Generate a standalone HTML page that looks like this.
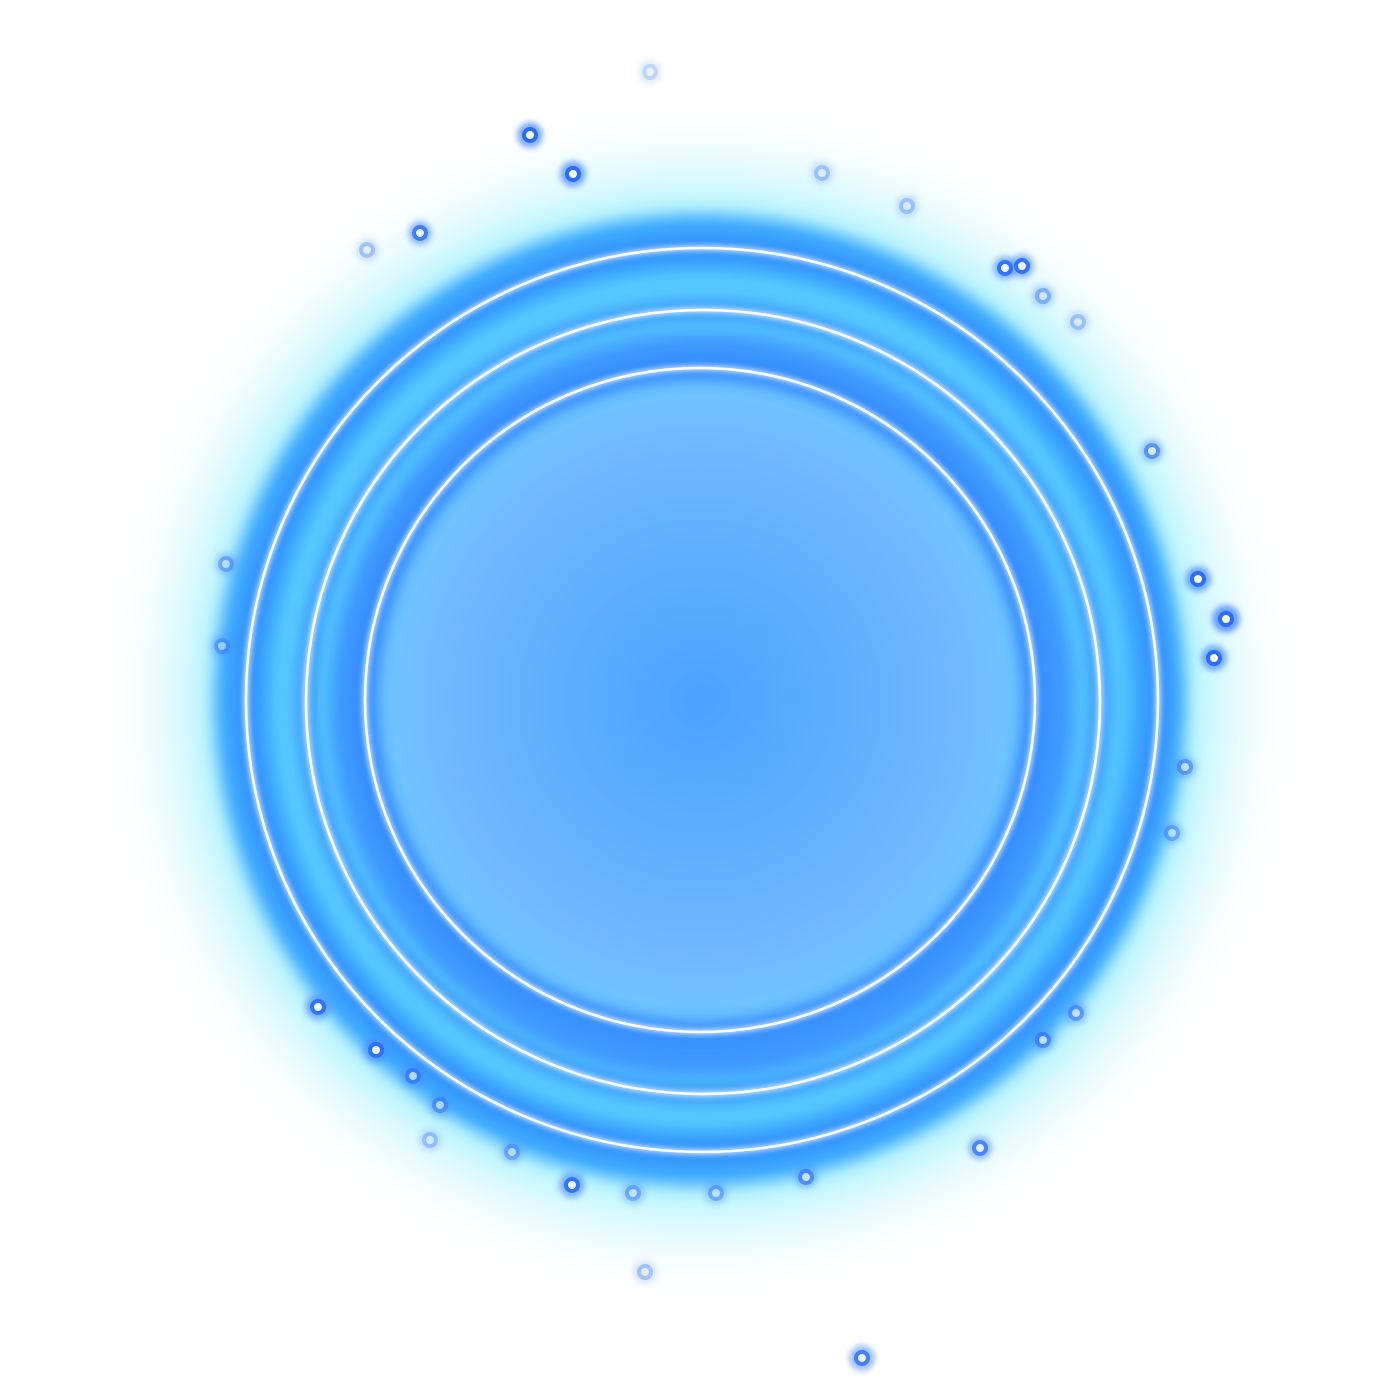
<!DOCTYPE html>
<html><head><meta charset="utf-8"><style>
html,body{margin:0;padding:0;background:#fff;width:1400px;height:1400px;overflow:hidden}
</style></head><body>
<svg width="1400" height="1400" viewBox="0 0 1400 1400" xmlns="http://www.w3.org/2000/svg">
<defs>
  <radialGradient id="halo" cx="700" cy="700" r="600" gradientUnits="userSpaceOnUse">
    <stop offset="0.7" stop-color="#40d8ff" stop-opacity="0.95"/>
    <stop offset="0.84" stop-color="#80ecff" stop-opacity="0.45"/>
    <stop offset="1" stop-color="#ffffff" stop-opacity="0"/>
  </radialGradient>
  <radialGradient id="core" cx="700" cy="700" r="340" gradientUnits="userSpaceOnUse">
    <stop offset="0" stop-color="#4aa2ff"/>
    <stop offset="0.75" stop-color="#6fb8ff"/>
    <stop offset="1" stop-color="#70c8ff"/>
  </radialGradient>
  <filter id="blur8" x="-20%" y="-20%" width="140%" height="140%"><feGaussianBlur stdDeviation="8"/></filter>
  <filter id="blur3" x="-20%" y="-20%" width="140%" height="140%"><feGaussianBlur stdDeviation="3"/></filter>
  <filter id="blurp" x="-100%" y="-100%" width="300%" height="300%"><feGaussianBlur stdDeviation="3"/></filter>
</defs>
<circle cx="700" cy="700" r="600" fill="url(#halo)"/>
<circle cx="700" cy="700" r="485" fill="#3aa6ff" filter="url(#blur8)"/>
<circle cx="700" cy="700" r="430" fill="#58caff" filter="url(#blur8)"/>
<circle cx="702" cy="705" r="372" fill="#3d97ff" filter="url(#blur8)"/>
<circle cx="700" cy="702" r="325" fill="url(#core)" filter="url(#blur8)"/>
<g fill="none">
  <ellipse cx="702" cy="700" rx="456" ry="452" stroke="#2f86ff" stroke-width="18" filter="url(#blur8)" opacity="0.8"/>
  <ellipse cx="702" cy="700" rx="456" ry="452" stroke="#ffffff" stroke-width="4" filter="url(#blur3)"/>
  <ellipse cx="702" cy="700" rx="456" ry="452" stroke="#ffffff" stroke-width="2.5"/>
  <ellipse cx="703" cy="702" rx="397" ry="392" stroke="#2f86ff" stroke-width="18" filter="url(#blur8)" opacity="0.8"/>
  <ellipse cx="703" cy="702" rx="397" ry="392" stroke="#ffffff" stroke-width="4" filter="url(#blur3)"/>
  <ellipse cx="703" cy="702" rx="397" ry="392" stroke="#ffffff" stroke-width="2.5"/>
  <ellipse cx="700" cy="700" rx="335" ry="332" stroke="#2f86ff" stroke-width="18" filter="url(#blur8)" opacity="0.8"/>
  <ellipse cx="700" cy="700" rx="335" ry="332" stroke="#ffffff" stroke-width="4" filter="url(#blur3)"/>
  <ellipse cx="700" cy="700" rx="335" ry="332" stroke="#ffffff" stroke-width="2.5"/>
</g>
<g fill="#4a8cff" filter="url(#blurp)">
  <circle cx="530" cy="135" r="13" opacity="0.7"/><circle cx="573" cy="174" r="13" opacity="0.7"/>
  <circle cx="420" cy="233" r="12" opacity="0.55"/><circle cx="367" cy="250" r="12" opacity="0.2"/>
  <circle cx="650" cy="72" r="12" opacity="0.15"/><circle cx="1005" cy="268" r="12" opacity="0.6"/>
  <circle cx="1022" cy="266" r="12" opacity="0.6"/><circle cx="1043" cy="296" r="12" opacity="0.3"/>
  <circle cx="1078" cy="322" r="12" opacity="0.2"/><circle cx="1152" cy="451" r="12" opacity="0.4"/>
  <circle cx="1198" cy="579" r="13" opacity="0.7"/><circle cx="1226" cy="619" r="14" opacity="0.8"/>
  <circle cx="1214" cy="658" r="13" opacity="0.7"/><circle cx="1185" cy="767" r="12" opacity="0.35"/>
  <circle cx="1172" cy="833" r="12" opacity="0.3"/><circle cx="318" cy="1007" r="13" opacity="0.6"/>
  <circle cx="376" cy="1050" r="13" opacity="0.6"/><circle cx="413" cy="1076" r="12" opacity="0.4"/>
  <circle cx="440" cy="1105" r="12" opacity="0.35"/><circle cx="430" cy="1140" r="12" opacity="0.2"/>
  <circle cx="512" cy="1152" r="12" opacity="0.3"/><circle cx="572" cy="1185" r="13" opacity="0.6"/>
  <circle cx="633" cy="1193" r="12" opacity="0.3"/><circle cx="716" cy="1193" r="12" opacity="0.3"/>
  <circle cx="806" cy="1177" r="12" opacity="0.4"/><circle cx="980" cy="1148" r="12" opacity="0.5"/>
  <circle cx="1043" cy="1040" r="12" opacity="0.4"/><circle cx="1076" cy="1013" r="12" opacity="0.35"/>
  <circle cx="862" cy="1358" r="13" opacity="0.55"/><circle cx="645" cy="1272" r="12" opacity="0.2"/>
  <circle cx="822" cy="173" r="12" opacity="0.2"/><circle cx="907" cy="206" r="12" opacity="0.2"/>
  <circle cx="226" cy="564" r="12" opacity="0.3"/><circle cx="222" cy="646" r="12" opacity="0.3"/>
</g>
<g fill="#ffffff" stroke="#2a6cff" stroke-width="4">
  <circle cx="530" cy="135" r="6"/><circle cx="573" cy="174" r="6"/>
  <circle cx="420" cy="233" r="6" opacity="0.8"/><circle cx="367" cy="250" r="6" opacity="0.3"/>
  <circle cx="650" cy="72" r="6" opacity="0.2"/><circle cx="1005" cy="268" r="6" opacity="0.9"/>
  <circle cx="1022" cy="266" r="6" opacity="0.9"/><circle cx="1043" cy="296" r="6" opacity="0.4"/>
  <circle cx="1078" cy="322" r="6" opacity="0.3"/><circle cx="1152" cy="451" r="6" opacity="0.6"/>
  <circle cx="1198" cy="579" r="6"/><circle cx="1226" cy="619" r="6"/>
  <circle cx="1214" cy="658" r="6"/><circle cx="1185" cy="767" r="6" opacity="0.5"/>
  <circle cx="1172" cy="833" r="6" opacity="0.4"/><circle cx="318" cy="1007" r="6" opacity="0.9"/>
  <circle cx="376" cy="1050" r="6" opacity="0.9"/><circle cx="413" cy="1076" r="6" opacity="0.6"/>
  <circle cx="440" cy="1105" r="6" opacity="0.5"/><circle cx="430" cy="1140" r="6" opacity="0.3"/>
  <circle cx="512" cy="1152" r="6" opacity="0.4"/><circle cx="572" cy="1185" r="6" opacity="0.9"/>
  <circle cx="633" cy="1193" r="6" opacity="0.4"/><circle cx="716" cy="1193" r="6" opacity="0.4"/>
  <circle cx="806" cy="1177" r="6" opacity="0.6"/><circle cx="980" cy="1148" r="6" opacity="0.7"/>
  <circle cx="1043" cy="1040" r="6" opacity="0.6"/><circle cx="1076" cy="1013" r="6" opacity="0.5"/>
  <circle cx="862" cy="1358" r="6" opacity="0.8"/><circle cx="645" cy="1272" r="6" opacity="0.3"/>
  <circle cx="822" cy="173" r="6" opacity="0.3"/><circle cx="907" cy="206" r="6" opacity="0.3"/>
  <circle cx="226" cy="564" r="6" opacity="0.4"/><circle cx="222" cy="646" r="6" opacity="0.4"/>
</g>
</svg>
</body></html>
